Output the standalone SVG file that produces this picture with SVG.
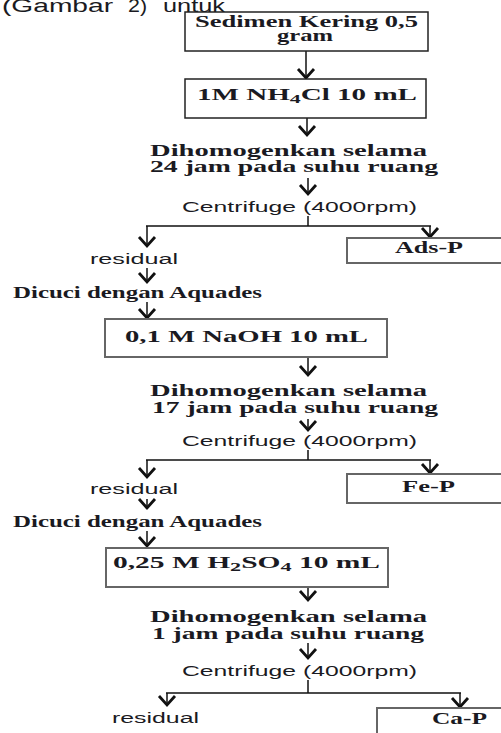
<svg xmlns="http://www.w3.org/2000/svg" width="501" height="733" viewBox="0 0 501 733">
<defs>
<style>
.s{font-family:"Liberation Serif","Times New Roman",serif;font-weight:bold;font-size:16px;fill:#1a1a22}
.a{font-family:"Liberation Sans",Arial,sans-serif;font-size:14px;fill:#1a1a22}
.b1{fill:#fff;stroke:#222;stroke-width:1.5}
.b2{fill:#fff;stroke:#666;stroke-width:2}
.c{fill:none;stroke:#111;stroke-width:1.5}
</style>
<marker id="ah" markerUnits="userSpaceOnUse" markerWidth="24" markerHeight="24" refX="0" refY="0" viewBox="-12 -12 24 24" orient="auto" overflow="visible">
<path d="M-9,-8 L0,0 L-9,8" fill="none" stroke="#111" stroke-width="2.8"/>
</marker>
</defs>
<rect width="501" height="733" fill="#fff"/>
<g id="caption">
<text class="a" style="font-size:18px" x="2" y="12" textLength="111" lengthAdjust="spacingAndGlyphs">(Gambar</text>
<text class="a" style="font-size:18px" x="128" y="12" textLength="19" lengthAdjust="spacingAndGlyphs">2)</text>
<text class="a" style="font-size:18px" x="163" y="12" textLength="62" lengthAdjust="spacingAndGlyphs">untuk</text>
</g>
<g id="connectors">
<path class="c" d="M306,51 V78" marker-end="url(#ah)"/>
<path class="c" d="M307,118 V135" marker-end="url(#ah)"/>
<path class="c" d="M308,178 V194" marker-end="url(#ah)"/>
<path class="c" d="M308,216 V226 M146,226 H431"/>
<path class="c" d="M147,226 V246" marker-end="url(#ah)"/>
<path class="c" d="M430,226 V237" marker-end="url(#ah)"/>
<path class="c" d="M147,268 V282" marker-end="url(#ah)"/>
<path class="c" d="M147,302 V318" marker-end="url(#ah)"/>
<path class="c" d="M308,357 V375" marker-end="url(#ah)"/>
<path class="c" d="M308,419 V430" marker-end="url(#ah)"/>
<path class="c" d="M308,450 V460 M146,460 H431"/>
<path class="c" d="M147,460 V477" marker-end="url(#ah)"/>
<path class="c" d="M430,460 V473" marker-end="url(#ah)"/>
<path class="c" d="M147,499 V508" marker-end="url(#ah)"/>
<path class="c" d="M147,531 V546" marker-end="url(#ah)"/>
<path class="c" d="M308,587 V600" marker-end="url(#ah)"/>
<path class="c" d="M308,643 V658" marker-end="url(#ah)"/>
<path class="c" d="M308,680 V693 M166,693 H461"/>
<path class="c" d="M167,693 V705" marker-end="url(#ah)"/>
<path class="c" d="M460,693 V707" marker-end="url(#ah)"/>
</g>
<g id="n1">
<rect class="b1" x="185" y="12" width="243" height="39"/>
<text class="s" x="195" y="27" textLength="223" lengthAdjust="spacingAndGlyphs">Sedimen Kering 0,5</text>
<text class="s" x="277" y="41" textLength="56" lengthAdjust="spacingAndGlyphs">gram</text>
</g>
<g id="n2">
<rect class="b1" x="185" y="79" width="241" height="39"/>
<text class="s" x="197" y="100" textLength="220" lengthAdjust="spacingAndGlyphs">1M NH<tspan font-size="12" dy="3">4</tspan><tspan dy="-3">Cl 10 mL</tspan></text>
</g>
<g id="n3">
<text class="s" x="150" y="156" textLength="277" lengthAdjust="spacingAndGlyphs">Dihomogenkan selama</text>
<text class="s" x="150" y="172" textLength="288" lengthAdjust="spacingAndGlyphs">24 jam pada suhu ruang</text>
</g>
<g id="n4">
<text class="a" x="182" y="212" textLength="235" lengthAdjust="spacingAndGlyphs">Centrifuge (4000rpm)</text>
</g>
<g id="n5">
<rect class="b2" x="347" y="238" width="160" height="25"/>
<text class="s" x="395" y="253" textLength="68" lengthAdjust="spacingAndGlyphs">Ads-P</text>
</g>
<g id="n6">
<text class="a" x="90" y="264" textLength="88" lengthAdjust="spacingAndGlyphs">residual</text>
</g>
<g id="n7">
<text class="s" x="13" y="298" textLength="249" lengthAdjust="spacingAndGlyphs">Dicuci dengan Aquades</text>
</g>
<g id="n8">
<rect class="b2" x="105" y="319" width="282" height="38"/>
<text class="s" x="125" y="342" textLength="243" lengthAdjust="spacingAndGlyphs">0,1 M NaOH 10 mL</text>
</g>
<g id="n9">
<text class="s" x="150" y="396" textLength="277" lengthAdjust="spacingAndGlyphs">Dihomogenkan selama</text>
<text class="s" x="152" y="413" textLength="286" lengthAdjust="spacingAndGlyphs">17 jam pada suhu ruang</text>
</g>
<g id="n10">
<text class="a" x="182" y="446" textLength="235" lengthAdjust="spacingAndGlyphs">Centrifuge (4000rpm)</text>
</g>
<g id="n11">
<rect class="b2" x="347" y="474" width="160" height="29"/>
<text class="s" x="402" y="492" textLength="53" lengthAdjust="spacingAndGlyphs">Fe-P</text>
</g>
<g id="n12">
<text class="a" x="90" y="494" textLength="88" lengthAdjust="spacingAndGlyphs">residual</text>
</g>
<g id="n13">
<text class="s" x="13" y="527" textLength="249" lengthAdjust="spacingAndGlyphs">Dicuci dengan Aquades</text>
</g>
<g id="n14">
<rect class="b2" x="106" y="548" width="282" height="39"/>
<text class="s" x="113" y="568" textLength="267" lengthAdjust="spacingAndGlyphs">0,25 M H<tspan font-size="12" dy="3">2</tspan><tspan dy="-3">SO</tspan><tspan font-size="12" dy="3">4</tspan><tspan dy="-3"> 10 mL</tspan></text>
</g>
<g id="n15">
<text class="s" x="150" y="622" textLength="277" lengthAdjust="spacingAndGlyphs">Dihomogenkan selama</text>
<text class="s" x="152" y="639" textLength="272" lengthAdjust="spacingAndGlyphs">1 jam pada suhu ruang</text>
</g>
<g id="n16">
<text class="a" x="182" y="676" textLength="235" lengthAdjust="spacingAndGlyphs">Centrifuge (4000rpm)</text>
</g>
<g id="n17">
<rect class="b2" x="377" y="708" width="140" height="40"/>
<text class="s" x="432" y="724" textLength="55" lengthAdjust="spacingAndGlyphs">Ca-P</text>
</g>
<g id="n18">
<text class="a" x="112" y="723" textLength="87" lengthAdjust="spacingAndGlyphs">residual</text>
</g>
</svg>
